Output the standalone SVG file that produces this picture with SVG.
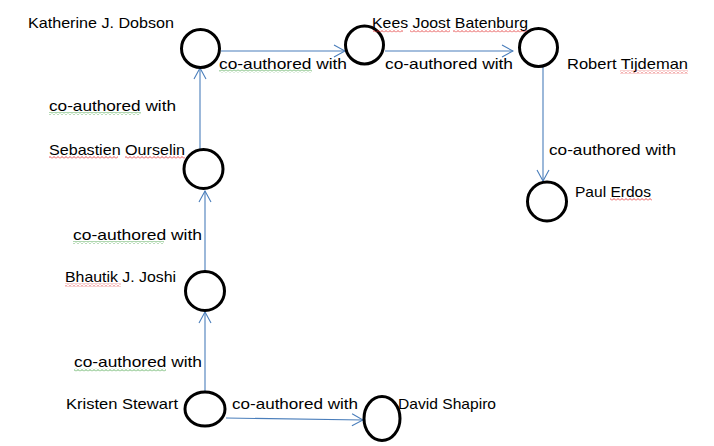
<svg xmlns="http://www.w3.org/2000/svg" width="714" height="446" viewBox="0 0 714 446">
<defs>
<style>
.node{fill:#fff;stroke:#000;stroke-width:3}
.edge{fill:none;stroke:#4A7EBB;stroke-width:1.1}
.t{font-family:"Liberation Sans",Arial,sans-serif;font-size:15px;fill:#000}
</style>
<marker id="arr" viewBox="-12 -7 13 14" refX="0" refY="0" markerWidth="13" markerHeight="14" markerUnits="userSpaceOnUse" orient="auto">
<path d="M-11,-6 L0,0 L-11,6" fill="none" stroke="#4A7EBB" stroke-width="1.1"/>
</marker>
<pattern id="rw" width="4" height="3" patternUnits="userSpaceOnUse">
<path d="M0,2.5 L2,0.5 L4,2.5" fill="none" stroke="#E02020" stroke-width="0.8"/>
</pattern>
<pattern id="gw" width="4" height="3" patternUnits="userSpaceOnUse">
<path d="M0,2.5 L2,0.5 L4,2.5" fill="none" stroke="#3A9A3A" stroke-width="0.8"/>
</pattern>
</defs>
<rect width="714" height="446" fill="#fff"/>

<g id="connectors">
<line class="edge" x1="221" y1="51" x2="345" y2="51" marker-end="url(#arr)"/>
<line class="edge" x1="385" y1="51" x2="513" y2="51" marker-end="url(#arr)"/>
<line class="edge" x1="200" y1="149" x2="200" y2="68" marker-end="url(#arr)"/>
<line class="edge" x1="205" y1="271" x2="205" y2="191" marker-end="url(#arr)"/>
<line class="edge" x1="205" y1="391" x2="205" y2="312" marker-end="url(#arr)"/>
<line class="edge" x1="543" y1="67" x2="543" y2="181" marker-end="url(#arr)"/>
<line class="edge" x1="226" y1="418" x2="363" y2="420" marker-end="url(#arr)"/>
<text class="t" x="219" y="69" textLength="128" lengthAdjust="spacingAndGlyphs">co-authored with</text>
<rect x="219" y="69.5" width="93" height="3" fill="url(#gw)"/>
<text class="t" x="385" y="69" textLength="128" lengthAdjust="spacingAndGlyphs">co-authored with</text>
<text class="t" x="49" y="111" textLength="127" lengthAdjust="spacingAndGlyphs">co-authored with</text>
<rect x="49" y="112" width="92" height="3" fill="url(#gw)"/>
<text class="t" x="73" y="240" textLength="129" lengthAdjust="spacingAndGlyphs">co-authored with</text>
<rect x="73" y="241" width="91" height="3" fill="url(#gw)"/>
<text class="t" x="74" y="367" textLength="128" lengthAdjust="spacingAndGlyphs">co-authored with</text>
<rect x="74" y="368.5" width="92" height="3" fill="url(#gw)"/>
<text class="t" x="549" y="155" textLength="127" lengthAdjust="spacingAndGlyphs">co-authored with</text>
<text class="t" x="232" y="409" textLength="126" lengthAdjust="spacingAndGlyphs">co-authored with</text>
</g>

<g id="n-katherine">
<circle class="node" cx="200.5" cy="48.5" r="19"/>
<text class="t" x="28" y="28" textLength="146" lengthAdjust="spacingAndGlyphs">Katherine J. Dobson</text>
</g>
<g id="n-kees">
<circle class="node" cx="364.5" cy="45" r="19"/>
</g>
<g id="n-robert">
<circle class="node" cx="538.5" cy="47.5" r="19"/>
</g>
<g id="n-sebastien">
<circle class="node" cx="203.5" cy="169" r="19.5"/>
<text class="t" x="49" y="155" textLength="136" lengthAdjust="spacingAndGlyphs">Sebastien Ourselin</text>
<rect x="49" y="156" width="69" height="3" fill="url(#rw)"/>
<rect x="125" y="156" width="60" height="3" fill="url(#rw)"/>
</g>
<g id="n-bhautik">
<circle class="node" cx="205" cy="291" r="19.5"/>
<text class="t" x="65" y="282" textLength="111" lengthAdjust="spacingAndGlyphs">Bhautik J. Joshi</text>
<rect x="65" y="283.5" width="56" height="3" fill="url(#rw)"/>
</g>
<g id="n-paul">
<circle class="node" cx="547" cy="201.5" r="19.5"/>
<text class="t" x="575" y="197" textLength="76" lengthAdjust="spacingAndGlyphs">Paul Erdos</text>
<rect x="610" y="198" width="42" height="3" fill="url(#rw)"/>
</g>
<g id="n-kristen">
<ellipse class="node" cx="205" cy="409" rx="20" ry="17"/>
<text class="t" x="66" y="409" textLength="112" lengthAdjust="spacingAndGlyphs">Kristen Stewart</text>
</g>
<g id="n-david">
<ellipse class="node" cx="382" cy="418.5" rx="18" ry="22"/>
<text class="t" x="398" y="409" textLength="98" lengthAdjust="spacingAndGlyphs">David Shapiro</text>
</g>
<g id="labels-top">
<text class="t" x="372" y="28" textLength="156" lengthAdjust="spacingAndGlyphs">Kees Joost Batenburg</text>
<rect x="373" y="29.5" width="30" height="3" fill="url(#rw)"/>
<rect x="410" y="29.5" width="40" height="3" fill="url(#rw)"/>
<rect x="453" y="29.5" width="74" height="3" fill="url(#rw)"/>
<text class="t" x="567" y="69" textLength="121" lengthAdjust="spacingAndGlyphs">Robert Tijdeman</text>
<rect x="620" y="70.5" width="68" height="3" fill="url(#rw)"/>
</g>
</svg>
